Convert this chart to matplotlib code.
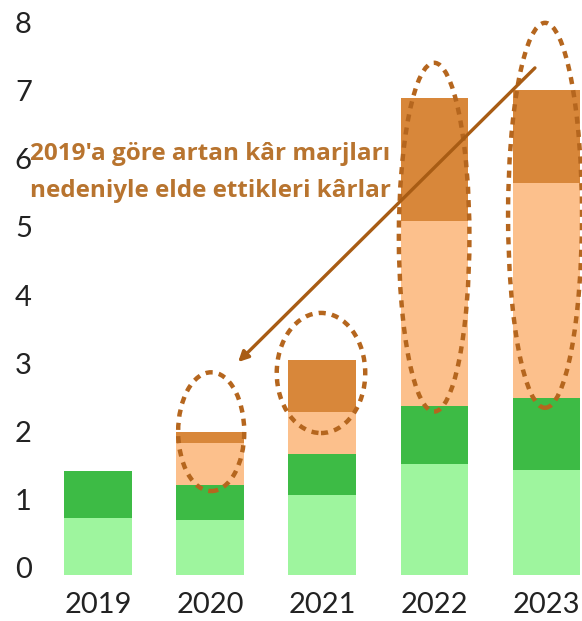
import matplotlib.pyplot as plt
import matplotlib.transforms as mtransforms
from matplotlib.patches import Ellipse

years = ['2019', '2020', '2021', '2022', '2023']

# stacked segments, bottom to top
light_green = [0.84, 0.81, 1.17, 1.63, 1.54]
dark_green = [0.69, 0.51, 0.60, 0.85, 1.05]
light_orange = [0.00, 0.62, 0.62, 2.71, 3.15]
dark_orange = [0.00, 0.15, 0.76, 1.80, 1.37]

segments = [light_green, dark_green, light_orange, dark_orange]
seg_colors = ['#9ef59e', '#3dbb45', '#fcc08c', '#d8873a']

# dashed ellipses: (bar index, centre y, width, height)
ellipses = [(1.01, 2.10, 0.59, 1.74),
            (1.99, 2.96, 0.79, 1.76),
            (3.00, 4.95, 0.63, 5.11),
            (3.99, 5.27, 0.66, 5.64)]

note = "2019'a göre artan kâr marjları\nnedeniyle elde ettikleri kârlar"
brown = '#b5661e'

W, H = 582, 621
fig = plt.figure(figsize=(W / 100, H / 100), dpi=100)
ax = fig.add_axes([36 / W, 46 / H, 1 - 36 / W, 1 - 46 / H])

x = list(range(len(years)))
bottom = [0.0] * len(years)
for vals, col in zip(segments, seg_colors):
    ax.bar(x, vals, width=0.6, bottom=bottom, color=col, edgecolor='none')
    bottom = [b + v for b, v in zip(bottom, vals)]

for cx, cy, w, h in ellipses:
    ax.add_patch(Ellipse((cx, cy), w, h, fill=False, edgecolor=brown,
                         linewidth=3.2, linestyle=(0, (1.6, 1.4)),
                         clip_on=False, zorder=4))

ax.annotate('', xy=(1.25, 3.12), xytext=(3.90, 7.43),
            arrowprops=dict(arrowstyle='-|>,head_length=0.6,head_width=0.3',
                            color='#a85c14', lw=2.4, shrinkA=0, shrinkB=0),
            zorder=5)

ax.text(-0.61, 5.90, note, color='#b8742f', fontsize=17.5, fontweight='bold',
        family=['Open Sans', 'DejaVu Sans'], ha='left', va='center',
        linespacing=1.75, zorder=6)

ax.set_xlim(-0.554, 4.32)
ax.set_ylim(0, 8.425)
ax.set_yticks(range(9))
ax.set_xticks(x)
ax.set_xticklabels(years)
for s in ax.spines.values():
    s.set_visible(False)
ax.tick_params(axis='both', length=0, labelsize=21, colors='#222222')
ax.tick_params(axis='y', pad=3)
ax.tick_params(axis='x', pad=12)
for lab in ax.get_xticklabels() + ax.get_yticklabels():
    lab.set_family(['Lato', 'DejaVu Sans'])

offset = mtransforms.ScaledTranslation(0, 0.07, fig.dpi_scale_trans)
for lab in ax.get_yticklabels():
    lab.set_transform(lab.get_transform() + offset)

fig.savefig('out.png', dpi=100)
